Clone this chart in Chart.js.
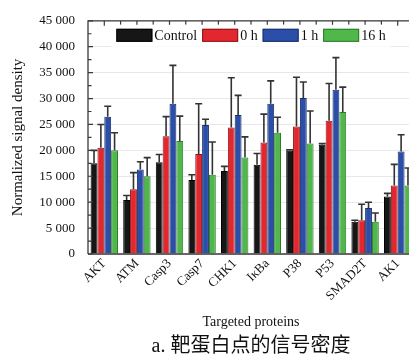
<!DOCTYPE html>
<html>
<head>
<meta charset="utf-8">
<script src="https://cdn.jsdelivr.net/npm/chart.js@4.4.1/dist/chart.umd.min.js"></script>
<style>
  html, body { margin: 0; padding: 0; background: #fff; overflow: hidden; width: 409px; height: 358px; }
  #wrap { position: relative; width: 420px; height: 358px; }
  #caption { position: absolute; left: 0; width: 502px; top: 333px; text-align: center;
    font-family: "Liberation Serif", "Noto Sans CJK SC", serif; font-size: 20px; color: #111; line-height: 24px; }
</style>
</head>
<body>
<div id="wrap">
  <canvas id="c" width="420" height="358"></canvas>
  <div id="caption">a. 靶蛋白点的信号密度</div>
</div>
<script>
const categories = ['AKT', 'ATM', 'Casp3', 'Casp7', 'CHK1', 'IκBa', 'P38', 'P53', 'SMAD2T', 'AK1'];
const seriesNames = ['Control', '0 h', '1 h', '16 h'];
const control    = [17500, 10400, 17700, 14300, 16000, 17200, 19900, 21100, 6200, 11100];
const controlErr = [2500, 900, 1500, 1000, 900, 2200, 200, 200, 300, 600];
const h0         = [20500, 12500, 22700, 19300, 24400, 21500, 24600, 25700, 6500, 13200];
const h0Err      = [4500, 3200, 3800, 9700, 9600, 5500, 9500, 7200, 3100, 4100];
const h1         = [26500, 16300, 29000, 24900, 26800, 29000, 30100, 31700, 8900, 19800];
const h1Err      = [2000, 1500, 7400, 1100, 3800, 4400, 3100, 6200, 1100, 3200];
const h16        = [20000, 15000, 21800, 15300, 18600, 23400, 21300, 27400, 6200, 13200];
const h16Err     = [3400, 3600, 4800, 6300, 4000, 3000, 6300, 4800, 1700, 3400];
const yTickValues = [0, 5000, 10000, 15000, 20000, 25000, 30000, 35000, 40000, 45000];

const fills   = ['#161616', '#e2282e', '#2b4fa9', '#50b84b'];
const borders = ['#000000', '#8a1518', '#182f6a', '#2d7a2a'];
const values = [control, h0, h1, h16];
const errors = [controlErr, h0Err, h1Err, h16Err];

const SERIF = '"Liberation Serif", "Times New Roman", serif';

const fmt = v => v === 0 ? '0' : (Math.floor(v / 1000) + ' ' + String(v % 1000).padStart(3, '0'));

// legend drawn inside the plot, at the top, centred on the plot area
const insideLegend = {
  id: 'insideLegend',
  afterDatasetsDraw(chart) {
    const ctx = chart.ctx;
    const a = chart.chartArea;
    const boxW = 36, boxH = 13, textGap = 2, itemGap = 5;
    ctx.save();
    ctx.font = '14px ' + SERIF;
    const items = chart.data.datasets.map(ds => ({ label: ds.label, fill: ds.backgroundColor, border: ds.borderColor, tw: ctx.measureText(ds.label).width }));
    const total = items.reduce((s, it) => s + boxW + textGap + it.tw, 0) + itemGap * (items.length - 1);
    let x = (a.left + a.right) / 2 - total / 2;
    const yBox = a.top + 8;
    ctx.fillStyle = '#ffffff';
    ctx.fillRect(x - 5, a.top + 4, total + 10, boxH + 9);
    ctx.textBaseline = 'middle';
    items.forEach(it => {
      ctx.fillStyle = it.fill;
      ctx.fillRect(x, yBox, boxW, boxH);
      ctx.strokeStyle = it.border;
      ctx.lineWidth = 1;
      ctx.strokeRect(x + 0.5, yBox + 0.5, boxW - 1, boxH - 1);
      ctx.fillStyle = '#111';
      ctx.fillText(it.label, x + boxW + textGap, yBox + boxH / 2 + 1);
      x += boxW + textGap + it.tw + itemGap;
    });
    ctx.restore();
  }
};

const errorBars = {
  id: 'errorBars',
  afterDatasetsDraw(chart) {
    const ctx = chart.ctx;
    const ys = chart.scales.y;
    ctx.save();
    ctx.strokeStyle = '#333333';
    ctx.lineWidth = 1.6;
    chart.data.datasets.forEach((ds, di) => {
      const meta = chart.getDatasetMeta(di);
      meta.data.forEach((bar, i) => {
        const top = ys.getPixelForValue(values[di][i] + errors[di][i]);
        ctx.beginPath();
        ctx.moveTo(bar.x, bar.y);
        ctx.lineTo(bar.x, top);
        ctx.moveTo(bar.x - 3.5, top);
        ctx.lineTo(bar.x + 3.5, top);
        ctx.stroke();
      });
    });
    ctx.restore();
  }
};

const frame = {
  id: 'frame',
  afterDatasetsDraw(chart) {
    const ctx = chart.ctx;
    const a = chart.chartArea;
    const ys = chart.scales.y;
    const xs = chart.scales.x;
    ctx.save();
    ctx.strokeStyle = '#3a3a3a';
    ctx.lineWidth = 1.3;
    ctx.beginPath();
    ctx.moveTo(a.left, a.bottom);
    ctx.lineTo(a.left, a.top);
    ctx.lineTo(a.right + 10, a.top);
    ctx.moveTo(a.left, a.bottom);
    ctx.lineTo(a.right + 10, a.bottom);
    ctx.stroke();
    ctx.lineWidth = 1.2;
    ctx.beginPath();
    for (let v = 0; v <= 45000; v += 2500) {
      const y = ys.getPixelForValue(v);
      ctx.moveTo(a.left, y);
      ctx.lineTo(a.left + (v % 5000 === 0 ? 5 : 3.5), y);
    }
    const step = xs.getPixelForValue(1) - xs.getPixelForValue(0);
    for (let i = 0; i < categories.length; i++) {
      const c = xs.getPixelForValue(i);
      ctx.moveTo(c, a.top); ctx.lineTo(c, a.top + 5);
      ctx.moveTo(c + step / 2, a.top); ctx.lineTo(c + step / 2, a.top + 4);
    }
    ctx.stroke();
    ctx.restore();
  }
};

new Chart(document.getElementById('c'), {
  type: 'bar',
  data: {
    labels: categories,
    datasets: seriesNames.map((name, i) => ({
      label: name,
      data: values[i],
      backgroundColor: fills[i],
      borderColor: borders[i],
      borderWidth: 1,
      borderSkipped: 'bottom',
      categoryPercentage: 0.84,
      barPercentage: 1.0
    }))
  },
  options: {
    responsive: false,
    animation: false,
    devicePixelRatio: 1,
    layout: { padding: { top: 19, right: 6, bottom: 26, left: 0 } },
    plugins: {
      tooltip: { enabled: false },
      legend: { display: false }
    },
    scales: {
      x: {
        grid: { display: false, drawTicks: false },
        border: { display: false },
        ticks: {
          minRotation: 45, maxRotation: 45, autoSkip: false,
          color: '#111', padding: 2,
          font: { family: SERIF, size: 13 }
        },
        title: {
          display: true, text: 'Targeted proteins', color: '#111',
          font: { family: SERIF, size: 14 }, padding: { top: 0, bottom: 1 }
        },
        afterFit(s) { s.height = 78; }
      },
      y: {
        min: 0, max: 45000,
        afterBuildTicks(s) {
          const t = [];
          for (let v = 0; v <= 45000; v += 2500) t.push({ value: v });
          s.ticks = t;
        },
        ticks: {
          callback: v => (yTickValues.includes(v) ? fmt(v) : ''),
          color: '#111', padding: 13,
          font: { family: SERIF, size: 13 }
        },
        grid: { color: 'rgba(0,0,0,0.09)', drawTicks: false, lineWidth: 1 },
        border: { display: false },
        title: {
          display: true, text: 'Normalized signal density', color: '#111',
          font: { family: SERIF, size: 15 }, padding: { top: 9, bottom: 0 }
        },
        afterFit(s) { s.width = 88; }
      }
    }
  },
  plugins: [errorBars, frame, insideLegend]
});
</script>
</body>
</html>
